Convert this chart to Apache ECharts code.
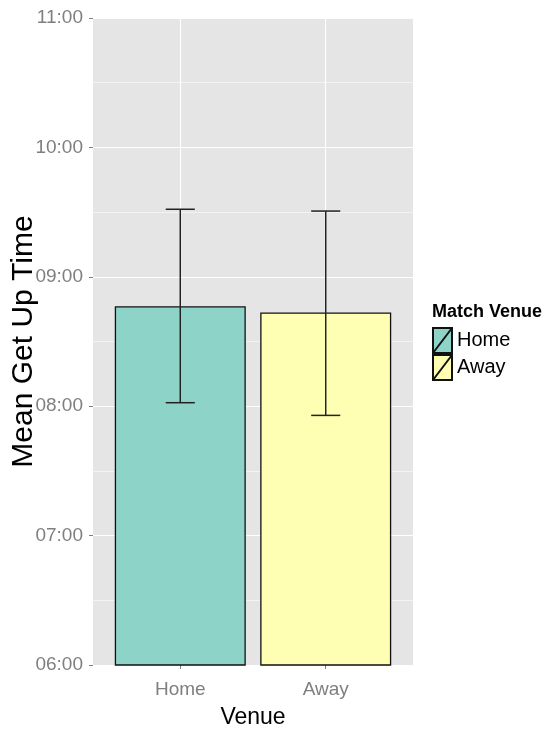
<!DOCTYPE html>
<html lang="en">
<head>
	<meta charset="UTF-8">
	<title>mean-get-up-time</title>
	<script src="https://cdn.jsdelivr.net/npm/echarts@6/dist/echarts.min.js"></script>
	<style>body{margin:0;background:#fff;}</style>
</head>
<body>
	<div id="container" style="width:560px;height:737px;"></div>

	<script>
		// venues and mean get-up time in hours (with error bar ends)
		var venues = ['Home', 'Away'];
		var venueColors = ['#8DD3C7', '#FFFFB3'];
		var meanTime = [8.772, 8.725];
		var errLow = [8.027, 7.929];
		var errHigh = [9.522, 9.508];
		var yTicks = [6, 7, 8, 9, 10, 11];

		var myChart = echarts.init(document.getElementById('container'));

		function hhmm(v){
			var h = Math.floor(v + 1e-6);
			var m = Math.round((v - h) * 60);
			return (h < 10 ? '0' : '') + h + ':' + (m < 10 ? '0' : '') + m;
		}

		var series = venues.map(function(v, i){
			return {
				name: v,
				type: 'bar',
				barWidth: 131,
				barGap: '-100%',
				data: [[i + 1, meanTime[i]]],
				itemStyle: {color: venueColors[i], borderColor: '#111', borderWidth: 1.3}
			};
		});

		// error bars
		series.push({
			type: 'custom',
			name: 'err',
			z: 5,
			data: venues.map(function(v, i){ return [i + 1, errLow[i], errHigh[i]]; }),
			renderItem: function(params, api){
				var x = api.value(0);
				var lo = api.coord([x, api.value(1)]);
				var hi = api.coord([x, api.value(2)]);
				var half = api.size([0.2, 0])[0] / 2;
				var st = {stroke: '#222', lineWidth: 1.5};
				return {type: 'group', children: [
					{type: 'line', shape: {x1: lo[0], y1: lo[1], x2: hi[0], y2: hi[1]}, style: st},
					{type: 'line', shape: {x1: hi[0] - half, y1: hi[1], x2: hi[0] + half, y2: hi[1]}, style: st},
					{type: 'line', shape: {x1: lo[0] - half, y1: lo[1], x2: lo[0] + half, y2: lo[1]}, style: st}
				]};
			}
		});

		var option = {
			animation: false,
			title: {
				text: 'Match Venue',
				left: 432,
				top: 303,
				padding: 0,
				textStyle: {fontFamily: 'Liberation Sans', fontSize: 18, fontWeight: 'bold', color: '#000'}
			},
			legend: {
				data: venues,
				orient: 'vertical',
				left: 432,
				top: 327,
				itemWidth: 19,
				itemHeight: 25,
				itemGap: 0,
				padding: 0,
				icon: 'path://M0,0H19V25H0Z M0,25L19,0',
				textStyle: {fontFamily: 'Liberation Sans', fontSize: 20, color: '#000'}
			},
			grid: {
				left: 93, right: 147, top: 18, bottom: 72,
				outerBoundsMode: 'none',
				show: true, backgroundColor: '#e5e5e5', borderWidth: 0
			},
			xAxis: {
				type: 'value',
				min: 0.4,
				max: 2.6,
				name: 'Venue',
				nameLocation: 'middle',
				nameGap: 41,
				nameMoveOverlap: false,
				nameTextStyle: {fontFamily: 'Liberation Sans', fontSize: 23, color: '#000'},
				axisLine: {show: false},
				axisTick: {show: true, length: 4, customValues: [1, 2], lineStyle: {color: '#7f7f7f'}},
				axisLabel: {
					customValues: [1, 2],
					margin: 15,
					fontFamily: 'Liberation Sans', fontSize: 19, color: '#7f7f7f',
					formatter: function(v){ return venues[Math.round(v) - 1] || ''; }
				},
				splitLine: {show: true, lineStyle: {color: '#ffffff', width: 1.2}}
			},
			yAxis: {
				type: 'value',
				min: yTicks[0],
				max: yTicks[yTicks.length - 1],
				interval: 1,
				name: 'Mean Get Up Time',
				nameLocation: 'middle',
				nameGap: 54,
				nameMoveOverlap: false,
				nameTextStyle: {fontFamily: 'Liberation Sans', fontSize: 30, color: '#000'},
				axisLine: {show: false},
				axisTick: {show: true, length: 4, lineStyle: {color: '#7f7f7f'}},
				axisLabel: {
					margin: 10,
					fontFamily: 'Liberation Sans', fontSize: 19, color: '#7f7f7f',
					formatter: hhmm
				},
				splitLine: {show: true, lineStyle: {color: '#ffffff', width: 1.2}},
				minorTick: {show: false, splitNumber: 2},
				minorSplitLine: {show: true, lineStyle: {color: '#f2f2f2', width: 1}}
			},
			series: series
		};

		myChart.setOption(option);
	</script>
</body>
</html>
